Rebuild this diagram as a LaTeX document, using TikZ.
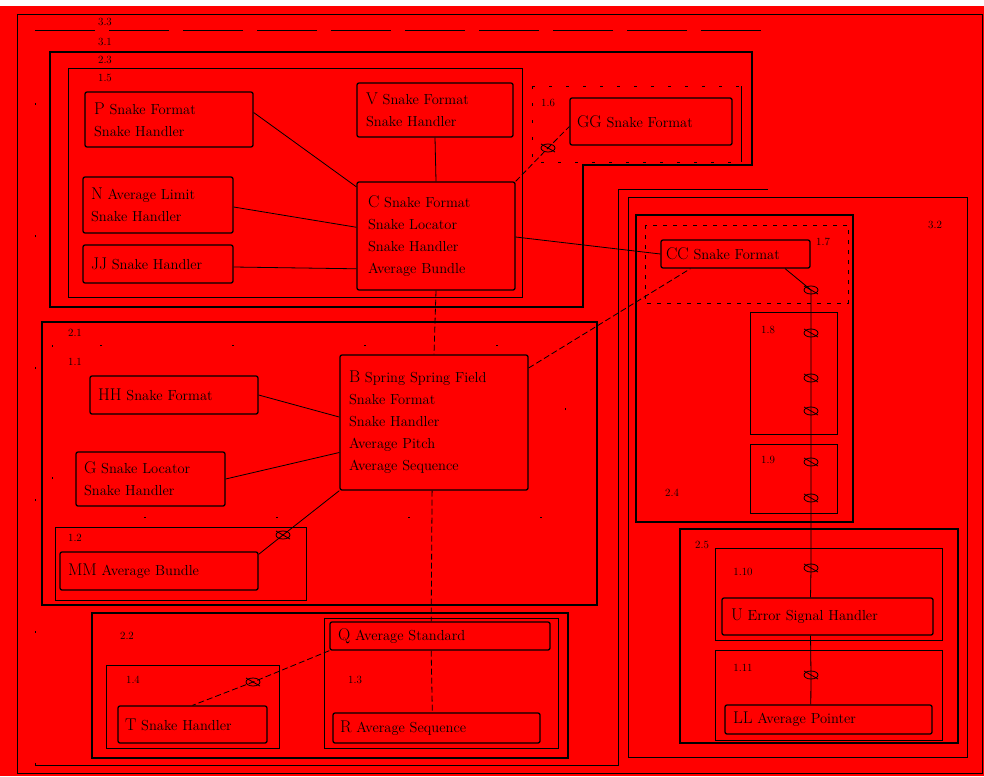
\documentclass[tikz,border=0pt]{standalone}
\usetikzlibrary{calc}
\definecolor{bgred}{RGB}{255,0,0}
\tikzset{
  ent/.style={draw=black, line width=1.3pt, rounded corners=2pt, inner sep=0pt, align=left, font=\fontsize{14.5}{22}\selectfont, text=black},
  fr/.style={draw=black, line width=0.7pt},
  frd/.style={draw=black, line width=1.3pt},
  frf/.style={draw=black, line width=0.5pt, dash pattern=on 60pt off 14pt},
  frdot/.style={draw=black, line width=0.4pt, dash pattern=on 2pt off 130pt},
  lab/.style={font=\fontsize{11}{12}\selectfont, text=black, inner sep=0pt},
  rel/.style={draw=black, line width=0.8pt},
  drel/.style={draw=black, line width=0.8pt, dash pattern=on 6pt off 3pt},
  mk/.style={draw=black, line width=0.8pt}
}
\newcommand{\ername}[1]{{\fontsize{17}{22}\selectfont #1}}
\newcommand{\ermark}[1]{\draw[mk] (#1) ellipse (7pt and 4pt); \draw[mk] ($(#1)+(-7,-4)$) -- ($(#1)+(7,4)$);}
\begin{document}
\begin{tikzpicture}[x=1pt,y=-1pt]
\useasboundingbox (0,0) rectangle (984,776);
\fill[white] (0,0) rectangle (984,776);
\fill[bgred] (0,6) rectangle (984,776);
% outer border
\draw[fr] (17,14) rectangle (982,773);
% cluster outlines
\draw[frf] (35,30) -- (768,30);
\draw[fr] (768,189) -- (618,189) -- (618,765) -- (35,765);
\draw[frdot] (35,765) -- (35,30);
\draw[frd] (50,52) -- (752,52) -- (752,165) -- (583,165) -- (583,307) -- (50,307) -- cycle;
\draw[fr] (68,68) rectangle (522,297);
\draw[fr, dash pattern=on 3pt off 14pt] (532,86) -- (741,86);
\draw[fr, dash pattern=on 3pt off 14pt] (532,86) -- (532,162) -- (741,162);
\draw[fr] (741,86) -- (741,162);
\draw[fr] (628,197) rectangle (967,757);
\draw[frd] (636,215) rectangle (853,522);
\draw[fr, dash pattern=on 4pt off 6pt] (645,225) rectangle (848,303);
\draw[fr] (750,312) rectangle (837,434);
\draw[fr] (750,444) rectangle (837,513);
\draw[frd] (680,529) rectangle (958,743);
\draw[fr] (715,548) rectangle (942,640);
\draw[fr] (715,650) rectangle (942,740);
\draw[frd] (42,322) rectangle (597,605);
\draw[frdot] (52,345) rectangle (565,517);
\draw[fr] (55,527) rectangle (306,600);
\draw[frd] (92,613) rectangle (568,758);
\draw[fr] (106,665) rectangle (279,748);
\draw[fr] (324,618) rectangle (558,748);
% cluster labels
\node[lab] (l33) at (105,22) {3.3};
\node[lab] (l31) at (105,42) {3.1};
\node[lab] (l23) at (105,60) {2.3};
\node[lab] (l15) at (105,78) {1.5};
\node[lab] (l16) at (548,103) {1.6};
\node[lab] (l32) at (935,225) {3.2};
\node[lab] (l17) at (823,242) {1.7};
\node[lab] (l18) at (768,330) {1.8};
\node[lab] (l19) at (768,460) {1.9};
\node[lab] (l24) at (672,493) {2.4};
\node[lab] (l25) at (702,545) {2.5};
\node[lab] (l110) at (743,572) {1.10};
\node[lab] (l111) at (743,668) {1.11};
\node[lab] (l21) at (75,333) {2.1};
\node[lab] (l11) at (75,362) {1.1};
\node[lab] (l12) at (75,538) {1.2};
\node[lab] (l22) at (127,636) {2.2};
\node[lab] (l14) at (133,680) {1.4};
\node[lab] (l13) at (355,680) {1.3};
% entities
\node[ent, minimum width=168pt, minimum height=55pt, text width=150pt] (P) at (169,119.5) {\ername{P} Snake Format\\Snake Handler};
\node[ent, minimum width=156pt, minimum height=54pt, text width=138pt] (V) at (435,110) {\ername{V} Snake Format\\Snake Handler};
\node[ent, minimum width=162pt, minimum height=47pt, text width=148pt] (GG) at (651,121.5) {\ername{GG} Snake Format};
\node[ent, minimum width=150pt, minimum height=56pt, text width=134pt] (N) at (158,205) {\ername{N} Average Limit\\Snake Handler};
\node[ent, minimum width=150pt, minimum height=38pt, text width=134pt] (JJ) at (158,264) {\ername{JJ} Snake Handler};
\node[ent, minimum width=158pt, minimum height=108pt, text width=136pt] (C) at (436,236) {\ername{C} Snake Format\\Snake Locator\\Snake Handler\\Average Bundle};
\node[ent, minimum width=149pt, minimum height=28pt, text width=139pt] (CC) at (735.5,254) {\ername{CC} Snake Format};
\node[ent, minimum width=168pt, minimum height=38pt, text width=152pt] (HH) at (174,395) {\ername{HH} Snake Format};
\node[ent, minimum width=188pt, minimum height=135pt, text width=170pt] (B) at (434,422.5) {\ername{B} Spring Spring Field\\Snake Format\\Snake Handler\\Average Pitch\\Average Sequence};
\node[ent, minimum width=149pt, minimum height=54pt, text width=133pt] (G) at (150.5,479) {\ername{G} Snake Locator\\Snake Handler};
\node[ent, minimum width=198pt, minimum height=38pt, text width=182pt] (MM) at (159,571) {\ername{MM} Average Bundle};
\node[ent, minimum width=220pt, minimum height=28pt, text width=204pt] (Q) at (440,636) {\ername{Q} Average Standard};
\node[ent, minimum width=149pt, minimum height=37pt, text width=135pt] (T) at (192.5,724.5) {\ername{T} Snake Handler};
\node[ent, minimum width=207pt, minimum height=30pt, text width=193pt] (R) at (436.5,728) {\ername{R} Average Sequence};
\node[ent, minimum width=211pt, minimum height=37pt, text width=193pt] (U) at (827.5,616.5) {\ername{U} Error Signal Handler};
\node[ent, minimum width=207pt, minimum height=29pt, text width=191pt] (LL) at (828.5,719.5) {\ername{LL} Average Pointer};
% connectors
\draw[rel] ($(P.east)+(0,-7)$) -- ($(C.north west)!0.05!(C.south west)$);
\draw[rel] (V.south) -- (C.north);
\draw[rel] ($(N.east)+(0,2)$) -- ($(C.north west)!0.42!(C.south west)$);
\draw[rel] ($(JJ.east)+(0,3)$) -- ($(C.north west)!0.8!(C.south west)$);
\coordinate (mGG) at (548,148);
\draw[drel] (C.north east) -- (mGG) -- ($(GG.west)+(0,5)$);
\ermark{mGG}
\draw[rel] ($(C.east)+(0,1)$) -- (CC.west);
\draw[drel] (C.south) -- (B.north);
\draw[drel] ($(B.north east)!0.1!(B.south east)$) -- ($(CC.south west)!0.2!(CC.south east)$);
\draw[rel] (HH.east) -- ($(B.north west)!0.46!(B.south west)$);
\draw[rel] (G.east) -- ($(B.north west)!0.72!(B.south west)$);
\coordinate (mMM) at (283,535);
\draw[rel] (B.south west) -- (mMM) -- ($(MM.north east)+(0,3)$);
\ermark{mMM}
\draw[drel] ($(B.south west)!0.49!(B.south east)$) -- ($(Q.north west)!0.46!(Q.north east)$);
\coordinate (mT) at (253,682);
\draw[drel] (Q.south west) -- (mT) -- (T.north);
\ermark{mT}
\draw[drel] ($(Q.south west)!0.46!(Q.south east)$) -- ($(R.north west)!0.48!(R.north east)$);
% right chain
\coordinate (k1) at (811,290);
\coordinate (k2) at (811,333);
\coordinate (k3) at (811,378);
\coordinate (k4) at (811,411);
\coordinate (k5) at (811,462);
\coordinate (k6) at (811,498);
\coordinate (k7) at (811,568);
\coordinate (k8) at (811,675);
\draw[rel] ($(CC.south west)!0.83!(CC.south east)$) -- (k1) -- (k2) -- (k3) -- (k4) -- (k5) -- (k6) -- (k7) -- ($(U.north west)!0.42!(U.north east)$);
\draw[rel] ($(U.south west)!0.42!(U.south east)$) -- (k8) -- ($(LL.north west)!0.415!(LL.north east)$);
\ermark{k1}
\ermark{k2}
\ermark{k3}
\ermark{k4}
\ermark{k5}
\ermark{k6}
\ermark{k7}
\ermark{k8}
\end{tikzpicture}
\end{document}
